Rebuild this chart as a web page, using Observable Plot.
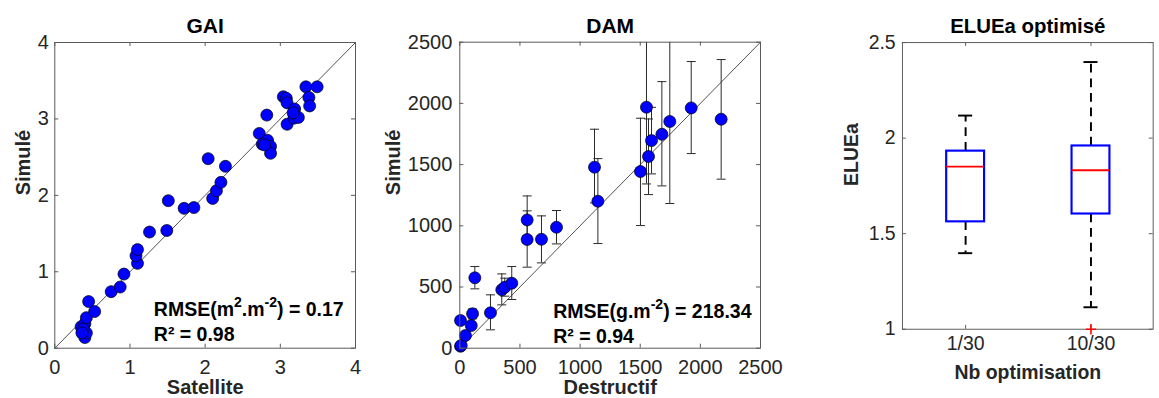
<!DOCTYPE html>
<html>
<head>
<meta charset="utf-8">
<script src="https://cdn.jsdelivr.net/npm/d3@7"></script>
<script src="https://cdn.jsdelivr.net/npm/@observablehq/plot@0.6"></script>
<style>
html, body { margin: 0; padding: 0; background: #fff; overflow: hidden; }
#wrap { position: relative; width: 1159px; height: 398px; overflow: hidden; background: #fff; }
.panel { position: absolute; top: 0; }
</style>
</head>
<body>
<div id="wrap"></div>
<script>
// ---------------- DATA ----------------
// Panel 1 : GAI (Satellite vs Simulé)
const gaiSatellite = [0.35,0.37,0.40,0.42,0.40,0.42,0.45,0.53,0.38,0.36,0.75,0.87,0.92,1.10,1.08,1.10,1.26,1.49,1.51,1.72,1.85,2.04,2.10,2.15,2.21,2.27,2.72,2.82,2.76,2.83,2.87,2.87,2.79,3.04,3.08,3.09,3.19,3.09,3.18,3.24,3.34,3.49,3.38,3.39,3.17];
const gaiSimule    = [0.28,0.22,0.14,0.20,0.32,0.40,0.61,0.48,0.25,0.20,0.74,0.80,0.97,1.11,1.21,1.29,1.52,1.54,1.93,1.83,1.84,2.48,1.96,2.06,2.17,2.38,2.81,3.05,2.67,2.72,2.64,2.55,2.66,3.29,3.27,3.21,3.13,2.93,3.01,3.02,3.42,3.42,3.28,3.17,3.08];
const gaiTicks = [0, 1, 2, 3, 4];
const gaiTitle = "GAI";
const gaiXLabel = "Satellite";
const gaiStats = ["RMSE(m", "2", ".m", "-2", ") = 0.17"];
const gaiR2 = "R² = 0.98";

// Panel 2 : DAM (Destructif vs Simulé, with error bars)
const damDestructif = [6, 12, 6, 47, 95, 106, 125, 255, 349, 374, 432, 560, 560, 679, 804, 1120, 1148, 1502, 1552, 1569, 1594, 1680, 1746, 1924, 2173];
const damSimule     = [16, 22, 226, 104, 185, 281, 575, 289, 477, 498, 531, 1048, 888, 890, 988, 1479, 1201, 1443, 1969, 1566, 1696, 1748, 1852, 1963, 1871];
const damLow        = [16, 22, 226, 104, 185, 240, 485, 150, 354, 425, 398, 858, 662, 697, 852, 1187, 855, 1002, 1342, 1255, 1424, 1326, 1182, 1590, 1381];
const damHigh       = [16, 22, 226, 104, 185, 321, 667, 436, 607, 572, 667, 1244, 1122, 1081, 1125, 1789, 1549, 1879, 2700, 1873, 1968, 2178, 2700, 2342, 2358];
const damTicks = [0, 500, 1000, 1500, 2000, 2500];
const damTitle = "DAM";
const damXLabel = "Destructif";
const damStats = ["RMSE(g.m", "-2", ") = 218.34"];
const damR2 = "R² = 0.94";
const yLabelSim = "Simulé";

// Panel 3 : ELUEa optimisé (boxplot summaries)
const boxCategories = ["1/30", "10/30"];
const boxWhiskerLow = [1.398, 1.115];
const boxQ1         = [1.562, 1.603];
const boxMedian     = [1.851, 1.832];
const boxQ3         = [1.932, 1.959];
const boxWhiskerHigh= [2.118, 2.398];
const boxOutlierCat = ["10/30"];
const boxOutlierVal = [1.0];
const boxYTicks = [1, 1.5, 2, 2.5];
const boxTitle = "ELUEa optimisé";
const boxYLabel = "ELUEa";
const boxXLabel = "Nb optimisation";

// ---------------- STYLE ----------------
const FONT = '"Liberation Sans", Arial, Helvetica, sans-serif';
const INK = "#262626";
const FRAME = "#5a5a5a";
const TICK = 4;

const wrap = document.getElementById("wrap");

function place(svg, left) {
  const d = document.createElement("div");
  d.className = "panel";
  d.style.left = left + "px";
  d.appendChild(svg);
  wrap.appendChild(d);
}

function inwardX(ticks, innerH) {
  return [
    Plot.ruleX(ticks, {x: d => d, insetTop: innerH - TICK, stroke: FRAME}),
    Plot.ruleX(ticks, {x: d => d, insetBottom: innerH - TICK, stroke: FRAME})
  ];
}
function inwardY(ticks, innerW) {
  return [
    Plot.ruleY(ticks, {y: d => d, insetRight: innerW - TICK, stroke: FRAME}),
    Plot.ruleY(ticks, {y: d => d, insetLeft: innerW - TICK, stroke: FRAME})
  ];
}
function titleMark(t, dy) {
  return Plot.text([t], {text: d => d, frameAnchor: "top", dy, lineAnchor: "top", fontSize: 21, fontWeight: "bold", fill: "#000"});
}
function xLabelMark(t, dy) {
  return Plot.text([t], {text: d => d, frameAnchor: "bottom", dy, lineAnchor: "top", fontSize: 20, fontWeight: "bold", fill: INK});
}
function yLabelMark(t, dx) {
  return Plot.text([t], {text: d => d, frameAnchor: "left", dx, rotate: -90, lineAnchor: "middle", fontSize: 20, fontWeight: "bold", fill: INK});
}
function statMark(parts, dx, dy) {
  return Plot.text([parts.join("")], {text: d => d, frameAnchor: "bottom-left", dx, dy, lineAnchor: "top", textAnchor: "start", fontSize: 19.5, fontWeight: "bold", fill: "#000"});
}
function r2Mark(t, dx, dy) {
  return Plot.text([t], {text: d => d, frameAnchor: "bottom-left", dx, dy, lineAnchor: "top", textAnchor: "start", fontSize: 19.5, fontWeight: "bold", fill: "#000"});
}
// rebuild a stat text with real superscripts (parts alternate normal / superscript)
function superscript(svg, parts) {
  const full = parts.join("");
  const t = Array.from(svg.querySelectorAll("text")).find(e => e.textContent === full);
  if (!t) return;
  const sel = d3.select(t);
  sel.text(null);
  parts.forEach((p, i) => {
    const sup = i % 2 === 1;
    const ts = sel.append("tspan").text(p);
    if (sup) ts.attr("font-size", 14).attr("dy", -9);
    else if (i > 0) ts.attr("dy", 9);
  });
}
const capSymbol = {
  draw(context, size) {
    const r = Math.sqrt(size / Math.PI);
    context.moveTo(-r, 0);
    context.lineTo(r, 0);
  }
};

// ---------------- PANEL 1 : GAI ----------------
{
  const W = 380, H = 398, mL = 54.3, mR = 25, mT = 42, mB = 50.3;
  const iW = W - mL - mR, iH = H - mT - mB;
  const pts = gaiSatellite.map((x, i) => ({x, y: gaiSimule[i]}));
  const svg = Plot.plot({
    width: W, height: H, marginLeft: mL, marginRight: mR, marginTop: mT, marginBottom: mB,
    style: {fontFamily: FONT, color: INK, background: "transparent", overflow: "visible"},
    x: {domain: [0, 4]},
    y: {domain: [0, 4]},
    marks: [
      Plot.line(gaiTicks.filter((d, i) => i === 0 || i === gaiTicks.length - 1).map(d => [d, d]), {stroke: "#404040", strokeWidth: 0.9}),
      Plot.dot(pts, {x: "x", y: "y", r: 6, fill: "#0000ff", stroke: "#000", strokeWidth: 0.7}),
      Plot.frame({stroke: FRAME}),
      ...inwardX(gaiTicks, iH),
      ...inwardY(gaiTicks, iW),
      Plot.axisX(gaiTicks, {tickSize: 0, tickPadding: 12, fontSize: 20, label: null, fill: INK, tickFormat: d => String(d)}),
      Plot.axisY(gaiTicks, {tickSize: 0, tickPadding: 6, fontSize: 20, label: null, fill: INK, tickFormat: d => String(d)}),
      titleMark(gaiTitle, -24),
      xLabelMark(gaiXLabel, 32),
      yLabelMark(yLabelSim, -31),
      statMark(gaiStats, 99, -46),
      r2Mark(gaiR2, 99, -21)
    ]
  });
  superscript(svg, gaiStats);
  place(svg, 0);
}

// ---------------- PANEL 2 : DAM ----------------
{
  const W = 400, H = 398, mL = 79.3, mR = 20, mT = 41.7, mB = 50.3;
  const iW = W - mL - mR, iH = H - mT - mB;
  const rows = damDestructif.map((x, i) => ({x, y: damSimule[i], lo: damLow[i], hi: damHigh[i]}));
  const bars = rows.filter(d => d.hi > d.lo);
  const svg = Plot.plot({
    width: W, height: H, marginLeft: mL, marginRight: mR, marginTop: mT, marginBottom: mB,
    style: {fontFamily: FONT, color: INK, background: "transparent", overflow: "visible"},
    x: {domain: [0, 2500]},
    y: {domain: [0, 2500]},
    marks: [
      Plot.line(damTicks.filter((d, i) => i === 0 || i === damTicks.length - 1).map(d => [d, d]), {stroke: "#404040", strokeWidth: 0.9}),
      Plot.ruleX(bars, {x: "x", y1: "lo", y2: "hi", stroke: "#2a2a2a", strokeWidth: 1, clip: true}),
      Plot.dot(bars, {x: "x", y: "lo", symbol: capSymbol, r: 4.5, stroke: "#2a2a2a", strokeWidth: 1, clip: true}),
      Plot.dot(bars, {x: "x", y: "hi", symbol: capSymbol, r: 4.5, stroke: "#2a2a2a", strokeWidth: 1, clip: true}),
      Plot.dot(rows, {x: "x", y: "y", r: 6, fill: "#0000ff", stroke: "#000", strokeWidth: 0.7}),
      Plot.frame({stroke: FRAME}),
      ...inwardX(damTicks, iH),
      ...inwardY(damTicks, iW),
      Plot.axisX(damTicks, {tickSize: 0, tickPadding: 12, fontSize: 20, label: null, fill: INK, tickFormat: d => String(d)}),
      Plot.axisY(damTicks, {tickSize: 0, tickPadding: 7.5, fontSize: 20, label: null, fill: INK, tickFormat: d => String(d)}),
      titleMark(damTitle, -24),
      xLabelMark(damXLabel, 32),
      yLabelMark(yLabelSim, -66),
      statMark(damStats, 93.4, -44.4),
      r2Mark(damR2, 93.4, -19.4)
    ]
  });
  superscript(svg, damStats);
  place(svg, 380);
}

// ---------------- PANEL 3 : ELUEa boxplot ----------------
{
  const W = 390, H = 398, mL = 125.5, mR = 6.5, mT = 43.3, mB = 59.7;
  const iW = W - mL - mR, iH = H - mT - mB;
  const bw = iW / boxCategories.length;
  const boxInset = (bw - 39) / 2;
  const capInset = (bw - 14.5) / 2;
  const boxes = boxCategories.map((c, i) => ({
    cat: c, lo: boxWhiskerLow[i], q1: boxQ1[i], med: boxMedian[i], q3: boxQ3[i], hi: boxWhiskerHigh[i]
  }));
  const outs = boxOutlierCat.map((c, i) => ({cat: c, v: boxOutlierVal[i]}));
  const svg = Plot.plot({
    width: W, height: H, marginLeft: mL, marginRight: mR, marginTop: mT, marginBottom: mB,
    style: {fontFamily: FONT, color: INK, background: "transparent", overflow: "visible"},
    x: {type: "band", domain: boxCategories, padding: 0},
    y: {domain: [boxYTicks[0], boxYTicks[boxYTicks.length - 1]]},
    marks: [
      Plot.ruleX(boxes, {x: "cat", y1: "q3", y2: "hi", stroke: "#000", strokeWidth: 2, strokeDasharray: "9,6"}),
      Plot.ruleX(boxes, {x: "cat", y1: "q1", y2: "lo", stroke: "#000", strokeWidth: 2, strokeDasharray: "9,6"}),
      Plot.tickY(boxes, {x: "cat", y: "hi", stroke: "#000", strokeWidth: 2, insetLeft: capInset, insetRight: capInset}),
      Plot.tickY(boxes, {x: "cat", y: "lo", stroke: "#000", strokeWidth: 2, insetLeft: capInset, insetRight: capInset}),
      Plot.barY(boxes, {x: "cat", y1: "q1", y2: "q3", fill: "#fff", stroke: "#0000ff", strokeWidth: 2.2, insetLeft: boxInset, insetRight: boxInset}),
      Plot.tickY(boxes, {x: "cat", y: "med", stroke: "#ff0000", strokeWidth: 2, insetLeft: boxInset, insetRight: boxInset}),
      Plot.frame({stroke: FRAME}),
      Plot.ruleX(boxCategories, {x: d => d, insetTop: iH - TICK, stroke: FRAME}),
      Plot.ruleX(boxCategories, {x: d => d, insetBottom: iH - TICK, stroke: FRAME}),
      ...inwardY(boxYTicks, iW),
      Plot.dot(outs, {x: "cat", y: "v", symbol: "plus", r: 3.5, stroke: "#ff0000", strokeWidth: 1.6}),
      Plot.axisX(boxCategories, {tickSize: 0, tickPadding: 7, fontSize: 20, label: null, fill: INK}),
      Plot.axisY(boxYTicks, {tickSize: 0, tickPadding: 7, fontSize: 20, label: null, fill: INK, tickFormat: d => String(d)}),
      titleMark(boxTitle, -25),
      xLabelMark(boxXLabel, 37),
      yLabelMark(boxYLabel, -52)
    ]
  });
  place(svg, 780);
}
</script>
</body>
</html>
